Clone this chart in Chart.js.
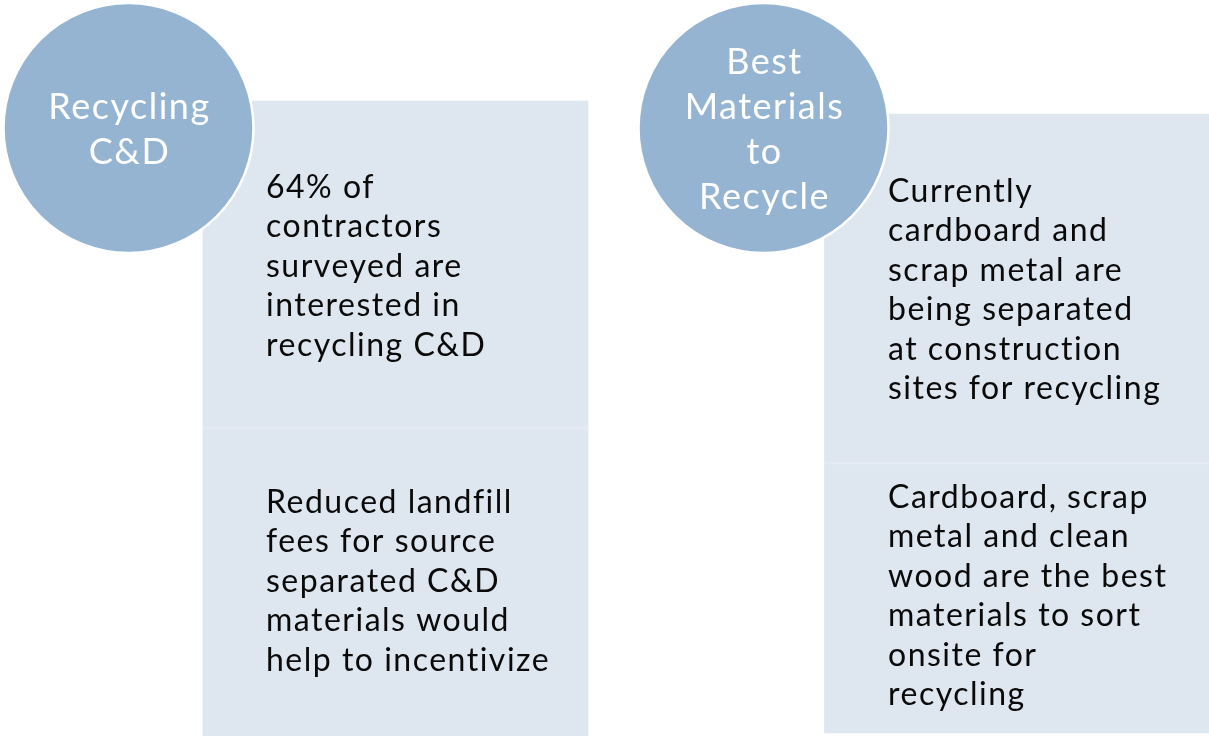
<!DOCTYPE html>
<html>
<head>
<meta charset="utf-8">
<script src="https://cdn.jsdelivr.net/npm/chart.js@4.4.0/dist/chart.umd.min.js"></script>
<style>
  body { margin: 0; background: #fff; }
  #wrap { width: 1209px; height: 736px; }
</style>
</head>
<body>
<div id="wrap"><canvas id="myChart" width="1209" height="736"></canvas></div>
<script>
// Content
const topics = [
  ["Recycling", "C&D"],
  ["Best", "Materials", "to", "Recycle"],
];
const details = [
  ["64% of", "contractors", "surveyed are", "interested in", "recycling C&D"],
  ["Reduced landfill", "fees for source", "separated C&D", "materials would", "help to incentivize"],
  ["Currently", "cardboard and", "scrap metal are", "being separated", "at construction", "sites for recycling"],
  ["Cardboard, scrap", "metal and clean", "wood are the best", "materials to sort", "onsite for", "recycling"],
];

// Layout (canvas units = pixels, y grows downward)
const circleCenters = [{ x: 128.5, y: 128 }, { x: 763.5, y: 128 }];
const panelBoxes = [
  { x: 395.5, y: [101, 428] },
  { x: 395.5, y: [428, 737] },
  { x: 1017, y: [114, 463] },
  { x: 1017, y: [463, 733] },
];
const dividers = [
  { x: 395.5, y: [427, 429] },
  { x: 1017, y: [462, 464] },
];
const textLeft = [266, 266, 888, 888];
const firstBaseline = [198, 513, 202, 508];
const lineGap = 39.4;

const FONT = "Lato, 'Noto Sans', sans-serif";

const textPlugin = {
  id: "diagramText",
  afterDatasetsDraw(chart) {
    const { ctx, scales } = chart;
    const x = scales.x, y = scales.y;
    ctx.save();
    ctx.textBaseline = "alphabetic";
    ctx.letterSpacing = "1.5px";

    ctx.fillStyle = "#ffffff";
    ctx.textAlign = "center";
    ctx.font = "36px " + FONT;
    topics.forEach((lines, i) => {
      const cx = x.getPixelForValue(circleCenters[i].x) + 1;
      const cy = y.getPixelForValue(circleCenters[i].y);
      lines.forEach((line, j) => {
        ctx.fillText(line, cx, cy + 13 + (j - (lines.length - 1) / 2) * 45);
      });
    });

    ctx.fillStyle = "#0a0a0a";
    ctx.textAlign = "left";
    ctx.font = "32px " + FONT;
    details.forEach((lines, i) => {
      const lx = x.getPixelForValue(textLeft[i]);
      lines.forEach((line, j) => {
        ctx.fillText(line, lx, y.getPixelForValue(firstBaseline[i] + j * lineGap));
      });
    });
    ctx.restore();
  },
};

const ctx = document.getElementById("myChart");

new Chart(ctx, {
  type: "bar",
  data: {
    datasets: [
      {
        type: "scatter",
        data: circleCenters,
        pointRadius: 125,
        pointHoverRadius: 125,
        backgroundColor: "#94b4d1",
        borderColor: "#ffffff",
        borderWidth: 2.5,
        clip: false,
        order: 0,
      },
      {
        data: dividers,
        barThickness: 385,
        grouped: false,
        backgroundColor: "#e5ebf2",
        order: 1,
      },
      {
        data: panelBoxes,
        barThickness: 385,
        grouped: false,
        backgroundColor: "#dee6ef",
        borderWidth: 0,
        order: 2,
      },
    ],
  },
  options: {
    responsive: false,
    animation: false,
    layout: { padding: 0, autoPadding: false },
    plugins: {
      legend: { display: false },
      tooltip: { enabled: false },
    },
    scales: {
      x: { type: "linear", min: 0, max: 1209, display: false, offset: false },
      y: { type: "linear", min: 0, max: 736, reverse: true, display: false },
    },
  },
  plugins: [textPlugin],
});
</script>
</body>
</html>
